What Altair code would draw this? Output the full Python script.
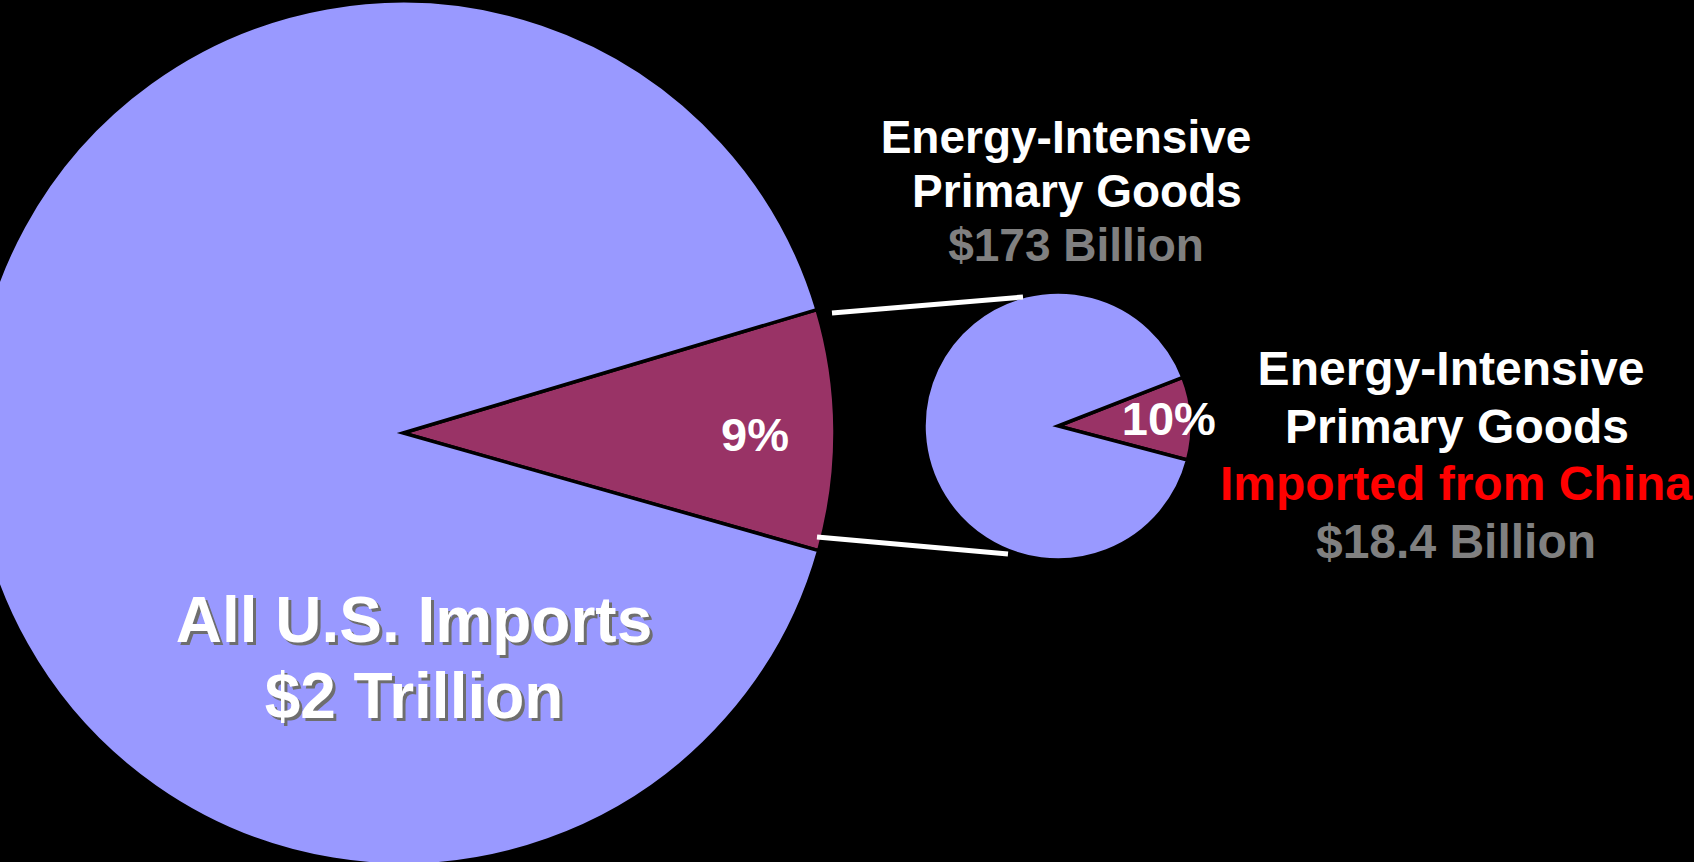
import math
import altair as alt
import pandas as pd

# ---- values -------------------------------------------------------------
# Share of all U.S. imports made up of energy-intensive primary goods
all_parts = ["Energy-intensive primary goods", "All other imports"]
all_pct = [9, 91]

# Share of energy-intensive primary goods imported from China
ei_parts = ["Imported from China", "Other sources"]
ei_pct = [10, 90]

# Label texts
all_label = ["All U.S. Imports", "$2 Trillion"]
ei_label = ["Energy-Intensive", "Primary Goods", "$173 Billion"]
china_label = ["Energy-Intensive", "Primary Goods", "Imported from China", "$18.4 Billion"]

# ---- styling ------------------------------------------------------------
BASE = "#9999FF"
SLICE = "#993366"
WHITE = "#FFFFFF"
GREY = "#808080"
RED = "#FF0000"
FONT = "Liberation Sans"
W, H = 1694, 862


def pie(parts, pct, cx, cy, r, start_deg, label_r, label_dy):
    df = pd.DataFrame({
        "part": parts,
        "pct": pct,
        "rank": list(range(len(parts))),
        "kind": ["share", "rest"],
    })
    a0 = math.radians(start_deg)
    theta = alt.Theta("pct:Q", stack=True,
                      scale=alt.Scale(range=[a0, a0 + 2 * math.pi]))
    base = alt.Chart(df).encode(
        theta=theta,
        order=alt.Order("rank:Q"),
        x=alt.value(cx),
        y=alt.value(cy),
    )
    arc = base.mark_arc(radius=r, stroke="black", strokeWidth=3.5,
                        strokeJoin="miter").encode(
        color=alt.Color("kind:N",
                        scale=alt.Scale(domain=["share", "rest"], range=[SLICE, BASE]),
                        legend=None)
    )
    txt = base.transform_calculate(
        lab="datum.kind == 'share' ? datum.pct + '%' : ''"
    ).mark_text(radius=label_r, font=FONT, fontWeight="bold", fontSize=47,
                baseline="middle", align="center", dy=label_dy).encode(
        text="lab:N", color=alt.value(WHITE)
    )
    return arc, txt


def text_block(lines, tones, xs, y0, step, size, dx=0, dy=0, override=None):
    df = pd.DataFrame({
        "line": lines,
        "tone": tones if override is None else [override] * len(lines),
        "x": [x + dx for x in xs],
        "y": [y0 + dy + i * step for i in range(len(lines))],
    })
    return alt.Chart(df).mark_text(
        font=FONT, fontWeight="bold", fontSize=size,
        align="center", baseline="alphabetic"
    ).encode(
        x=alt.X("x:Q", scale=None),
        y=alt.Y("y:Q", scale=None),
        text="line:N",
        color=alt.Color("tone:N", scale=None),
    )


big_arc, big_txt = pie(all_parts, all_pct, 403, 433, 432, 73.4, 352, 6)
small_arc, small_txt = pie(ei_parts, ei_pct, 1058, 426, 134, 68.7, 111, 1)

# connector lines between the two pies
link_df = pd.DataFrame({"k": [0]})
link_top = alt.Chart(link_df).mark_rule(color=WHITE, strokeWidth=5).encode(
    x=alt.value(832), y=alt.value(313), x2=alt.value(1023), y2=alt.value(297))
link_bot = alt.Chart(link_df).mark_rule(color=WHITE, strokeWidth=5).encode(
    x=alt.value(817), y=alt.value(537), x2=alt.value(1008), y2=alt.value(554))

all_shadow = text_block(all_label, None, [414, 414], 642, 76, 64, dx=3, dy=3,
                        override="#6E6E6E")
all_text = text_block(all_label, [WHITE, WHITE], [414, 414], 642, 76, 64)
ei_text = text_block(ei_label, [WHITE, WHITE, GREY], [1066, 1077, 1076], 153, 54, 46)
china_text = text_block(china_label, [WHITE, WHITE, RED, GREY],
                        [1451, 1457, 1456, 1456], 385, 57.7, 48)

chart = alt.layer(
    big_arc, small_arc, big_txt, small_txt,
    link_top, link_bot,
    all_shadow, all_text, ei_text, china_text,
).resolve_scale(
    theta="independent"
).properties(
    width=W, height=H,
    autosize=alt.AutoSizeParams(type="none"),
    padding=0,
    background="black",
).configure_view(stroke=None)

chart.save("out.html", embed_options={"renderer": "svg", "actions": False})
